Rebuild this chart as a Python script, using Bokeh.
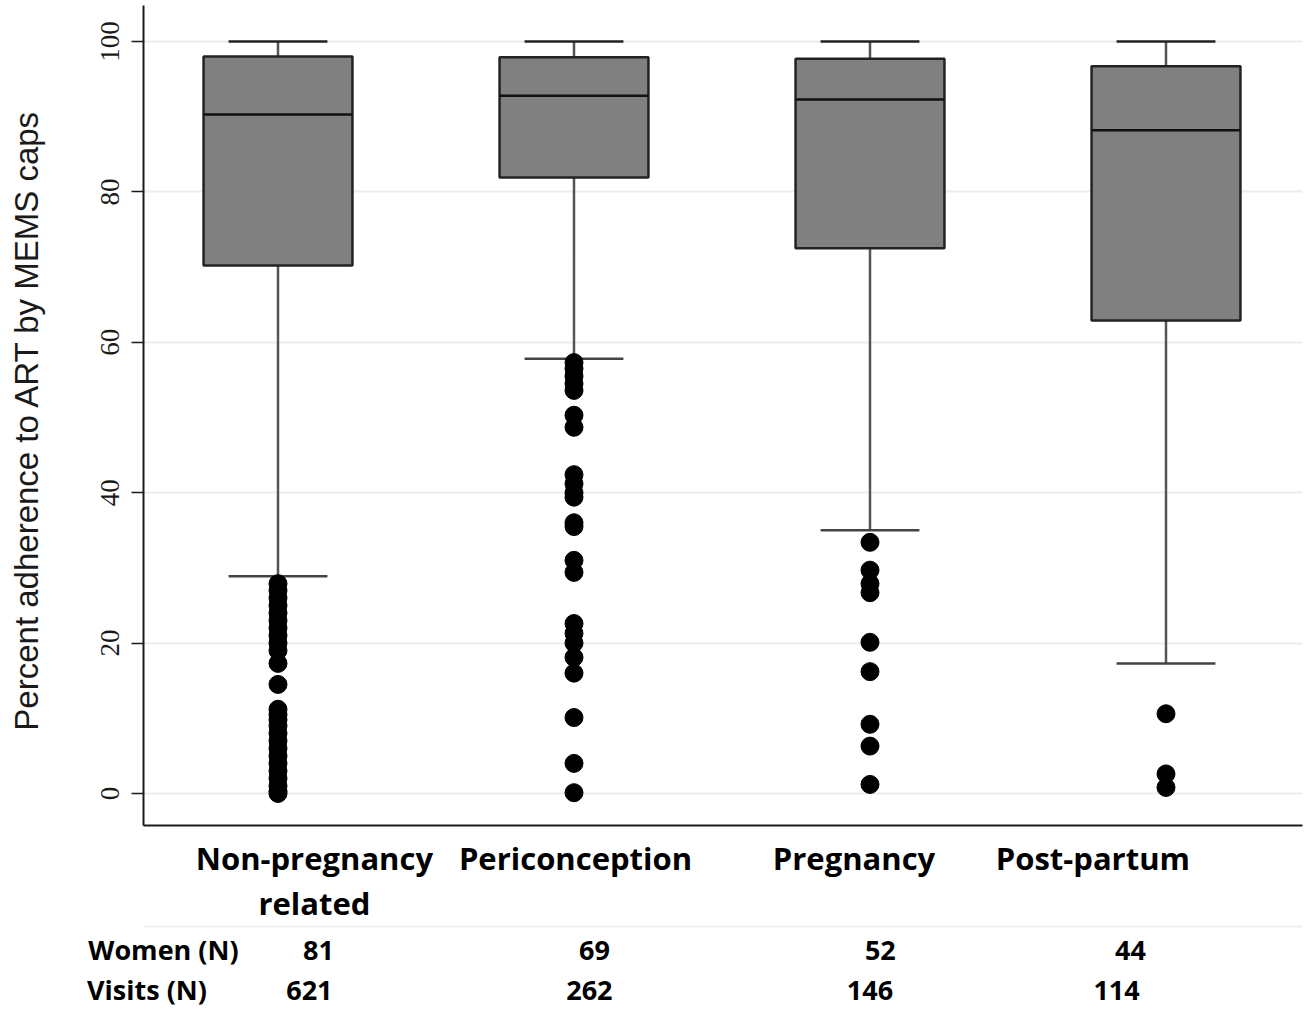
from bokeh.plotting import figure
from bokeh.models import Range1d, FixedTicker, ColumnDataSource, LinearAxis
from bokeh.embed import file_html
from bokeh.resources import INLINE

# ---------------- data ----------------
categories = ["Non-pregnancy\nrelated", "Periconception", "Pregnancy", "Post-partum"]
upper_whisker = [100.0, 100.0, 100.0, 100.0]
q3 = [98.0, 97.9, 97.7, 96.7]
median = [90.3, 92.8, 92.3, 88.2]
q1 = [70.2, 81.9, 72.5, 62.9]
lower_whisker = [28.9, 57.8, 35.0, 17.3]
outliers = [
    [27.9, 27.0, 26.0, 25.0, 24.0, 23.0, 22.0, 21.0, 20.0, 19.0, 17.3, 14.5,
     11.2, 10.5, 9.8, 9.0, 8.0, 7.0, 6.0, 5.0, 4.0, 3.0, 2.0, 1.0, 0.3, 0.0],
    [57.3, 56.5, 55.5, 54.5, 53.6, 50.3, 48.7, 42.4, 41.2, 40.0, 39.4, 36.0,
     35.5, 31.0, 29.4, 22.6, 21.3, 20.0, 18.1, 16.0, 10.1, 4.0, 0.1],
    [33.4, 29.7, 27.9, 26.7, 20.1, 16.2, 9.2, 6.3, 1.2],
    [10.6, 2.6, 0.8],
]
women_n = [81, 69, 52, 44]
visits_n = [621, 262, 146, 114]
y_ticks = [0, 20, 40, 60, 80, 100]
row_labels = ["Women (N)", "Visits (N)"]

# ---------------- layout constants ----------------
pos = [1, 2, 3, 4]
ppu = 296.0                     # px per category unit
W, H = 1311, 1010
frame_left, frame_right = 143, 9
frame_w = W - frame_left - frame_right
x0 = 1 - 134.5 / ppu
x1 = x0 + frame_w / ppu
box_w = 0.503
cap_w = 0.334

p = figure(width=W, height=H, x_range=Range1d(x0, x1), y_range=Range1d(-4.26, 104.79),
           output_backend="svg", toolbar_location=None,
           min_border_left=frame_left, min_border_right=frame_right,
           min_border_top=5, min_border_bottom=185)
p.outline_line_color = None
p.background_fill_color = "white"
p.border_fill_color = "white"

# grid
p.xgrid.visible = False
p.ygrid.grid_line_color = "#ececec"
p.ygrid.grid_line_width = 2
p.yaxis.ticker = FixedTicker(ticks=y_ticks)

# y axis
ya = p.yaxis[0]
ya.axis_line_color = "#1a1a1a"
ya.axis_line_width = 2
ya.major_tick_line_color = "#1a1a1a"
ya.major_tick_line_width = 1.5
ya.major_tick_out = 12
ya.major_tick_in = 0
ya.minor_tick_out = 0
ya.minor_tick_in = 0
ya.major_label_orientation = "vertical"
ya.major_label_text_font = "Liberation Sans Narrow"
ya.major_label_text_font_size = "27px"
ya.major_label_text_color = "#1a1a1a"
ya.major_label_standoff = 12
ya.axis_label = "Percent adherence to ART  by MEMS caps"
ya.axis_label_text_font = "Liberation Sans"
ya.axis_label_text_font_size = "33px"
ya.axis_label_text_font_style = "normal"
ya.axis_label_text_color = "#1a1a1a"
ya.axis_label_standoff = 54

# ---------------- text rows below the frame, as x axes ----------------
cat_offsets = [0.123, 0.005, -0.054, -0.247]
women_offsets = [0.137, 0.069, 0.035, -0.12]
visit_offsets = [0.106, 0.052, 0.0, -0.167]
row_label_x = [0.613, 0.5574]


def style_text_axis(ax, ticks, labels, size, standoff, line_color):
    ax.ticker = FixedTicker(ticks=ticks)
    ax.major_label_overrides = {t: l for t, l in zip(ticks, labels)}
    ax.major_tick_out = 0
    ax.major_tick_in = 0
    ax.minor_tick_out = 0
    ax.minor_tick_in = 0
    ax.major_label_text_font = "Open Sans"
    ax.major_label_text_font_style = "bold"
    ax.major_label_text_font_size = size
    ax.major_label_text_color = "black"
    ax.major_label_standoff = standoff
    ax.axis_line_color = line_color
    ax.axis_line_width = 2


cat_ticks = [v + o for v, o in zip(pos, cat_offsets)]
line1 = [c.split("\n")[0] for c in categories]
style_text_axis(p.xaxis[0], cat_ticks, line1, "31px", 11, "#1a1a1a")

# second line of the wrapped category labels
t2 = [t for t, c in zip(cat_ticks, categories) if "\n" in c]
l2 = [c.split("\n")[1] for c in categories if "\n" in c]
cat2_ax = LinearAxis()
style_text_axis(cat2_ax, t2, l2, "31px", 0, None)
p.add_layout(cat2_ax, "below")

women_ax = LinearAxis()
style_text_axis(women_ax, [row_label_x[0]] + [v + o for v, o in zip(pos, women_offsets)],
                [row_labels[0]] + [str(n) for n in women_n], "27px", 4, "#f0f0f0")
p.add_layout(women_ax, "below")

visits_ax = LinearAxis()
style_text_axis(visits_ax, [row_label_x[1]] + [v + o for v, o in zip(pos, visit_offsets)],
                [row_labels[1]] + [str(n) for n in visits_n], "27px", 0, None)
p.add_layout(visits_ax, "below")

# ---------------- boxes ----------------
src = ColumnDataSource(dict(x=pos, uw=upper_whisker, q3=q3, med=median, q1=q1, lw=lower_whisker,
                            xl=[v - box_w / 2 for v in pos], xr=[v + box_w / 2 for v in pos],
                            cl=[v - cap_w / 2 for v in pos], cr=[v + cap_w / 2 for v in pos]))

# whisker stems
p.segment(x0="x", y0="q3", x1="x", y1="uw", source=src, line_color="#555555", line_width=2.5)
p.segment(x0="x", y0="q1", x1="x", y1="lw", source=src, line_color="#555555", line_width=2.5)
# caps
p.segment(x0="cl", y0="uw", x1="cr", y1="uw", source=src, line_color="#222222", line_width=2.5)
p.segment(x0="cl", y0="lw", x1="cr", y1="lw", source=src, line_color="#444444", line_width=2.5)
# boxes
p.vbar(x="x", width=box_w, bottom="q1", top="q3", source=src,
       fill_color="#808080", line_color="#222222", line_width=2.5)
# medians
p.segment(x0="xl", y0="med", x1="xr", y1="med", source=src, line_color="#111111", line_width=2.5)

# outliers
ox, oy = [], []
for v, vals in zip(pos, outliers):
    ox += [v] * len(vals)
    oy += vals
p.scatter(ox, oy, size=18, fill_color="black", line_color="black")

open("out.html", "w").write(file_html(p, INLINE))
